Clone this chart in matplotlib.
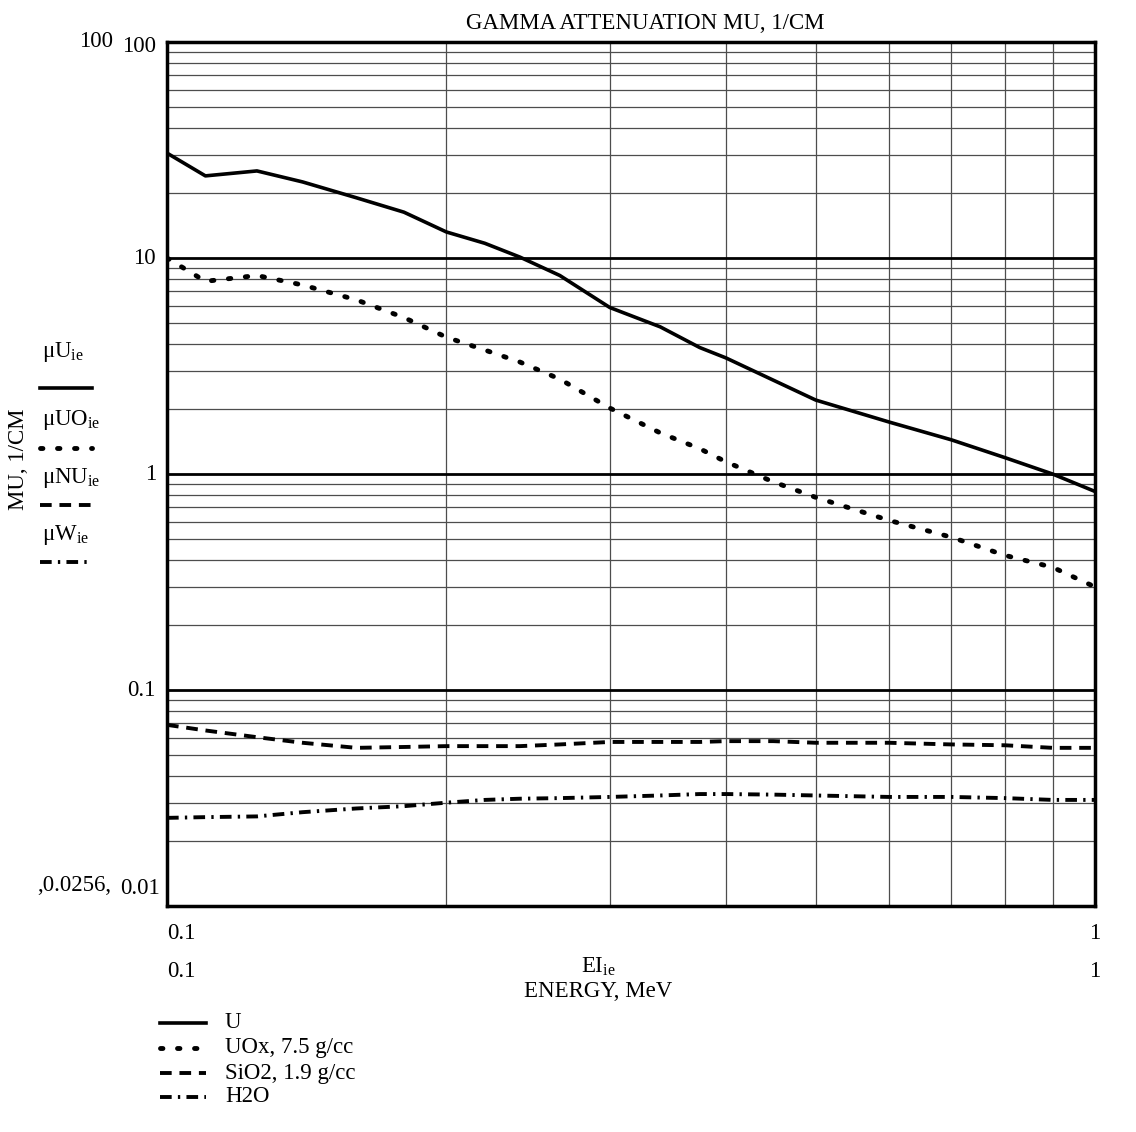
import matplotlib
matplotlib.use('Agg')
import matplotlib.pyplot as plt
from matplotlib.lines import Line2D
from matplotlib.ticker import LogLocator, NullFormatter
import numpy as np

plt.rcParams['font.family'] = ['Liberation Serif', 'DejaVu Serif']
plt.rcParams['mathtext.fontset'] = 'custom'
plt.rcParams['mathtext.rm'] = 'Liberation Serif'
plt.rcParams['mathtext.it'] = 'Liberation Serif'

# energies, MeV
energy = [0.1, 0.11, 0.125, 0.14, 0.16, 0.18, 0.2, 0.22, 0.24, 0.265, 0.3,
          0.34, 0.375, 0.4, 0.45, 0.5, 0.6, 0.7, 0.8, 0.9, 1.0]
# attenuation coefficients, 1/cm
mu_u = [30.6, 24.0, 25.3, 22.5, 19.0, 16.3, 13.2, 11.7, 10.1, 8.3, 5.9,
        4.8, 3.85, 3.45, 2.72, 2.2, 1.74, 1.44, 1.19, 1.0, 0.83]
mu_uox = [10.0, 7.8, 8.3, 7.5, 6.4, 5.3, 4.3, 3.75, 3.3, 2.75, 2.02,
          1.55, 1.31, 1.14, 0.92, 0.78, 0.61, 0.51, 0.42, 0.37, 0.30]
mu_sio2 = [0.069, 0.065, 0.0605, 0.057, 0.054, 0.0545, 0.055, 0.055, 0.055, 0.056, 0.0575,
           0.0575, 0.0575, 0.058, 0.058, 0.057, 0.057, 0.056, 0.0555, 0.054, 0.054]
mu_h2o = [0.0256, 0.0258, 0.026, 0.0272, 0.0283, 0.029, 0.0301, 0.031, 0.0314, 0.0316, 0.032,
          0.0325, 0.033, 0.033, 0.0328, 0.0325, 0.032, 0.032, 0.0316, 0.031, 0.031]

legend_labels = ['U', 'UOx, 7.5 g/cc', 'SiO2, 1.9 g/cc', 'H2O']
axis_names = [r'$\mu$U$_{\rm ie}$', r'$\mu$UO$_{\rm ie}$', r'$\mu$NU$_{\rm ie}$', r'$\mu$W$_{\rm ie}$']

styles = [
    dict(linestyle='-', lw=2.6),
    dict(linestyle=(0, (0.5, 3.0)), lw=3.5, dash_capstyle='round'),
    dict(linestyle=(0, (3.0, 2.0)), lw=2.8),
    dict(linestyle=(0, (3.0, 1.6, 0.6, 1.6)), lw=2.8),
]

fig = plt.figure(figsize=(11.36, 11.32), dpi=100)
ax = fig.add_axes([0.147, 0.1996, 0.817, 0.7633])
ax.set_xscale('log')
ax.set_yscale('log')
ax.set_xlim(0.1, 1)
ax.set_ylim(0.01, 100)

for y, st in zip([mu_u, mu_uox, mu_sio2, mu_h2o], styles):
    ax.plot(energy, y, color='black', **st, zorder=3)

# grid
ax.yaxis.set_minor_locator(LogLocator(base=10, subs=np.arange(2, 10)))
ax.xaxis.set_minor_locator(LogLocator(base=10, subs=np.arange(2, 10)))
ax.grid(which='minor', color='0.3', lw=0.9)
for v in [0.1, 1, 10]:
    ax.axhline(v, color='black', lw=2.0, zorder=2)
ax.tick_params(which='both', length=0, labelbottom=False, labelleft=False)
ax.xaxis.set_minor_formatter(NullFormatter())
ax.yaxis.set_minor_formatter(NullFormatter())
for s in ax.spines.values():
    s.set_linewidth(2.5)

fs = 16.5
ytr = ax.get_yaxis_transform()
xtr = ax.get_xaxis_transform()
for v, lab in [(10, '10'), (1, '1'), (0.1, '0.1')]:
    ax.text(-0.012, v, lab, transform=ytr, ha='right', va='center', fontsize=fs)
ax.text(-0.012, 95, '100', transform=ytr, ha='right', va='center', fontsize=fs)
ax.text(-0.058, 100, '100', transform=ytr, ha='right', va='center', fontsize=fs)
ax.text(-0.008, 0.0108, '0.01', transform=ytr, ha='right', va='bottom', fontsize=fs)
ax.text(-0.10, 0.0125, ',0.0256,', transform=ytr, ha='center', va='center', fontsize=fs)

ax.text(0.1, -0.02, '0.1', transform=xtr, ha='left', va='top', fontsize=fs)
ax.text(1.0, -0.02, '1', transform=xtr, ha='center', va='top', fontsize=fs)
ax.text(0.1, -0.064, '0.1', transform=xtr, ha='left', va='top', fontsize=fs)
ax.text(1.0, -0.064, '1', transform=xtr, ha='center', va='top', fontsize=fs)
ax.text(0.465, -0.058, r'EI$_{\rm ie}$', transform=ax.transAxes, ha='center', va='top', fontsize=fs)
ax.text(0.465, -0.087, 'ENERGY, MeV', transform=ax.transAxes, ha='center', va='top', fontsize=fs)

fig.text(0.568, 0.979, 'GAMMA ATTENUATION MU, 1/CM', ha='center', va='center', fontsize=fs)
fig.text(0.016, 0.594, 'MU, 1/CM', rotation=90, ha='center', va='center', fontsize=fs)

# axis trace names on the left
name_y = [352, 420, 478, 535]
line_y = [388, 448, 505, 562]
for nm, ny, ly, st in zip(axis_names, name_y, line_y, styles):
    fig.text(42 / 1136, 1 - ny / 1132, nm, ha='left', va='center', fontsize=fs)
    fig.add_artist(Line2D([40 / 1136, 92 / 1136], [1 - ly / 1132] * 2, color='black', **st))

# legend below
leg_y = [1023, 1048, 1073, 1097]
for lab, yy, st in zip(legend_labels, leg_y, styles):
    fig.add_artist(Line2D([160 / 1136, 206 / 1136], [1 - yy / 1132] * 2, color='black', **st))
    fig.text(225 / 1136, 1 - yy / 1132, lab, ha='left', va='center', fontsize=fs)

fig.savefig('out.png', dpi=100)
